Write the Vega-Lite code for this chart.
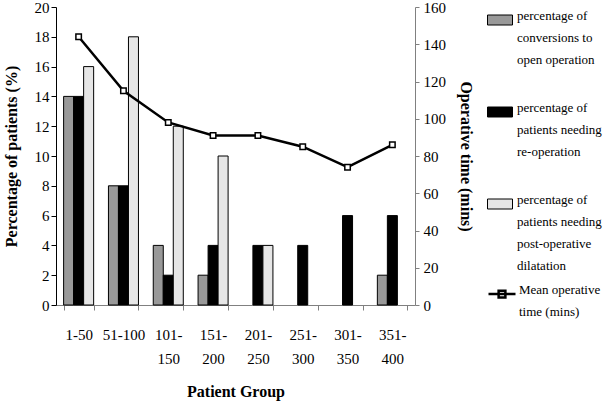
{
  "$schema": "https://vega.github.io/schema/vega-lite/v6.json",
  "width": 359,
  "height": 298,
  "autosize": "none",
  "padding": {"left": 56, "top": 7, "right": 190, "bottom": 97},
  "background": "white",
  "datasets": {
    "bars": [
      {"group": "1-50", "series": "percentage of conversions to open operation", "value": 14},
      {"group": "1-50", "series": "percentage of patients needing re-operation", "value": 14},
      {"group": "1-50", "series": "percentage of patients needing post-operative dilatation", "value": 16},
      {"group": "51-100", "series": "percentage of conversions to open operation", "value": 8},
      {"group": "51-100", "series": "percentage of patients needing re-operation", "value": 8},
      {"group": "51-100", "series": "percentage of patients needing post-operative dilatation", "value": 18},
      {"group": "101-150", "series": "percentage of conversions to open operation", "value": 4},
      {"group": "101-150", "series": "percentage of patients needing re-operation", "value": 2},
      {"group": "101-150", "series": "percentage of patients needing post-operative dilatation", "value": 12},
      {"group": "151-200", "series": "percentage of conversions to open operation", "value": 2},
      {"group": "151-200", "series": "percentage of patients needing re-operation", "value": 4},
      {"group": "151-200", "series": "percentage of patients needing post-operative dilatation", "value": 10},
      {"group": "201-250", "series": "percentage of conversions to open operation", "value": 0},
      {"group": "201-250", "series": "percentage of patients needing re-operation", "value": 4},
      {"group": "201-250", "series": "percentage of patients needing post-operative dilatation", "value": 4},
      {"group": "251-300", "series": "percentage of conversions to open operation", "value": 0},
      {"group": "251-300", "series": "percentage of patients needing re-operation", "value": 4},
      {"group": "251-300", "series": "percentage of patients needing post-operative dilatation", "value": 0},
      {"group": "301-350", "series": "percentage of conversions to open operation", "value": 0},
      {"group": "301-350", "series": "percentage of patients needing re-operation", "value": 6},
      {"group": "301-350", "series": "percentage of patients needing post-operative dilatation", "value": 0},
      {"group": "351-400", "series": "percentage of conversions to open operation", "value": 2},
      {"group": "351-400", "series": "percentage of patients needing re-operation", "value": 6},
      {"group": "351-400", "series": "percentage of patients needing post-operative dilatation", "value": 0}
    ],
    "times": [
      {"group": "1-50", "time": 144},
      {"group": "51-100", "time": 115},
      {"group": "101-150", "time": 98},
      {"group": "151-200", "time": 91},
      {"group": "201-250", "time": 91},
      {"group": "251-300", "time": 85},
      {"group": "301-350", "time": 74},
      {"group": "351-400", "time": 86}
    ]
  },
  "layer": [
    {
      "data": {"name": "bars"},
      "mark": {"type": "bar", "stroke": "black", "strokeWidth": 1},
      "encoding": {
        "x": {
          "field": "group",
          "type": "nominal",
          "sort": null,
          "title": "Patient Group",
          "scale": {"paddingInner": 0.33, "paddingOuter": 0.17},
          "axis": {
            "labelAngle": 0,
            "tickBand": "extent",
            "tickSize": 5,
            "domainColor": "#808080",
            "tickColor": "#808080",
            "labelBaseline": "top",
            "labelPadding": 17,
            "labelLineHeight": 24,
            "labelExpr": "length(datum.label) > 6 ? [substring(datum.label, 0, indexof(datum.label, '-') + 1), substring(datum.label, indexof(datum.label, '-') + 1)] : datum.label",
            "titlePadding": 17
          }
        },
        "xOffset": {"field": "series", "sort": null, "scale": {"paddingInner": 0}},
        "y": {
          "field": "value",
          "type": "quantitative",
          "title": "Percentage of patients (%)",
          "scale": {"domain": [0, 20]},
          "axis": {
            "values": [0, 2, 4, 6, 8, 10, 12, 14, 16, 18, 20],
            "domainColor": "black",
            "tickColor": "black",
            "titlePadding": 15
          }
        },
        "strokeOpacity": {"condition": {"test": "datum.value === 0", "value": 0}, "value": 1},
        "fill": {
          "field": "series",
          "type": "nominal",
          "sort": null,
          "scale": {"range": ["#999999", "#000000", "#e6e6e6"]},
          "legend": {
            "title": null,
            "orient": "none",
            "legendX": 431,
            "legendY": 0,
            "symbolType": "M-1,-0.4H1V0.4H-1Z",
            "symbolSize": 625,
            "symbolStrokeColor": "black",
            "symbolStrokeWidth": 1,
            "labelBaseline": "alphabetic",
            "labelOffset": 4,
            "rowPadding": 32,
            "labelExpr": "split(replace(datum.label, /(of|to|needing|operative) /g, '$1|'), '|')"
          }
        }
      }
    },
    {
      "data": {"name": "times"},
      "mark": {
        "type": "line",
        "strokeWidth": 2.5,
        "point": {"shape": "square", "size": 30, "filled": true, "fill": "white", "stroke": "black", "strokeWidth": 1.5}
      },
      "encoding": {
        "x": {"field": "group", "type": "nominal", "sort": null},
        "y": {
          "field": "time",
          "type": "quantitative",
          "title": "Operative time  (mins)",
          "scale": {"domain": [0, 160]},
          "axis": {
            "orient": "right",
            "values": [0, 20, 40, 60, 80, 100, 120, 140, 160],
            "domainColor": "#808080",
            "tickColor": "#808080",
            "tickSize": 4,
            "labelPadding": 4,
            "titlePadding": 12
          }
        },
        "stroke": {
          "datum": "Mean operative time (mins)",
          "scale": {"range": ["black"]},
          "legend": {
            "title": null,
            "orient": "none",
            "legendX": 431,
            "legendY": 272,
            "symbolType": "M-1,0H1M-0.25,-0.25H0.25V0.25H-0.25Z",
            "symbolSize": 729,
            "symbolStrokeWidth": 2.5,
            "labelBaseline": "alphabetic",
            "labelOffset": 2,
            "labelExpr": "split(replace(datum.label, /(of|to|needing|operative) /g, '$1|'), '|')"
          }
        }
      }
    }
  ],
  "resolve": {"scale": {"y": "independent"}},
  "config": {
    "font": "Liberation Serif",
    "view": {"stroke": null},
    "style": {"guide-label": {"lineHeight": 22}},
    "axis": {
      "grid": false,
      "labelFont": "Liberation Serif",
      "labelFontSize": 15,
      "labelColor": "black",
      "titleFont": "Liberation Serif",
      "titleFontSize": 16,
      "titleFontWeight": "bold",
      "titleColor": "black"
    },
    "legend": {
      "labelFont": "Liberation Serif",
      "labelFontSize": 13,
      "labelColor": "black",
      "labelLimit": 0
    }
  }
}
